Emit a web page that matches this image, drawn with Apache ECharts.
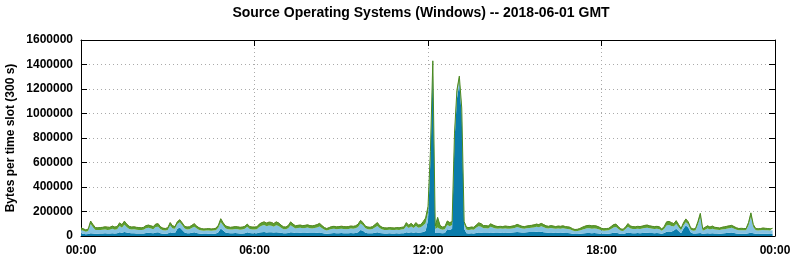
<!DOCTYPE html>
<html>
<head>
<meta charset="utf-8">
<script src="https://cdn.jsdelivr.net/npm/echarts@6/dist/echarts.min.js"></script>
<style>html,body{margin:0;padding:0;background:#fff}#c{width:794px;height:260px}</style>
</head>
<body>
<div id="c"></div>
<script>
// Values in kilobytes per 5-minute slot (288 slots, 00:00 .. 23:55)
const UNIT = 1000;
const SLOTS = 288;
const SLOTS_PER_TICK = 72;
const xTickLabels = ['00:00', '06:00', '12:00', '18:00', '00:00'];
const yTicks = [0, 200000, 400000, 600000, 800000, 1000000, 1200000, 1400000, 1600000];

const darkBlue = [
  20,18,15,16,22,20,18,18,20,20,22,20,
  20,22,20,22,30,26,32,28,24,22,22,20,
  20,20,20,24,26,24,22,28,30,22,18,18,
  20,30,24,25,60,70,50,28,22,22,26,30,
  24,20,18,17,17,18,17,18,20,30,62,45,
  28,24,22,22,24,22,20,21,22,30,24,22,
  22,22,28,30,32,28,30,30,28,30,28,26,
  22,22,24,30,28,24,25,26,24,25,26,24,
  24,25,26,28,24,20,18,20,22,24,22,22,
  24,22,22,22,24,22,24,30,50,42,26,22,
  22,22,26,30,24,22,20,20,22,20,20,22,
  20,22,22,30,26,30,26,30,26,28,32,40,
  130,620,1370,25,25,24,22,24,55,50,60,780,
  1120,1245,985,60,22,20,22,21,25,28,27,24,
  24,24,28,26,24,24,26,25,28,27,26,28,
  30,32,30,28,28,30,32,32,32,34,32,34,
  30,28,26,28,26,24,26,25,26,24,24,22,
  18,16,16,18,20,22,24,24,22,24,22,20,
  18,17,18,18,22,26,27,22,17,17,22,28,
  24,22,22,24,22,24,26,26,24,24,22,24,
  22,18,24,34,36,34,44,60,40,22,60,85,
  70,30,20,20,22,24,18,20,22,20,22,20,
  20,18,20,22,24,26,28,24,20,18,18,18,
  18,22,26,22,18,17,18,19,18,18,17,18
];
const lightBlue = [
  28,25,20,24,75,50,30,30,30,32,32,30,
  32,38,32,34,52,42,60,44,34,32,34,32,
  30,29,32,40,42,38,34,45,46,34,28,27,
  30,55,38,34,38,42,38,33,32,34,40,46,
  38,30,27,25,27,27,25,26,27,37,50,40,
  34,32,31,32,34,34,32,33,37,46,34,32,
  32,34,46,54,58,52,56,54,48,58,54,42,
  34,33,40,58,46,38,40,41,40,40,43,40,
  38,40,44,50,40,31,27,31,36,36,34,36,
  36,36,34,36,37,37,39,44,53,46,37,33,
  32,36,44,52,40,32,30,28,30,30,28,30,
  30,31,33,52,40,48,40,52,42,44,54,64,
  60,40,30,32,45,34,30,32,35,30,30,35,
  40,35,35,35,30,30,32,31,42,52,48,40,
  40,38,48,42,38,35,35,34,34,33,33,34,
  36,42,38,33,32,33,34,36,38,42,40,46,
  42,36,35,38,36,35,36,35,38,35,33,32,
  26,23,24,27,32,36,39,40,38,38,37,34,
  28,26,27,28,36,44,46,36,25,24,35,48,
  38,36,35,36,36,38,40,41,39,36,36,36,
  34,25,33,52,54,48,34,38,32,24,25,28,
  26,22,22,24,70,132,24,32,40,34,38,33,
  32,30,33,34,36,37,39,35,31,28,29,28,
  28,64,132,50,28,27,28,30,29,28,27,29
];
const green = [
  17,16,14,17,25,22,20,19,19,19,21,22,
  19,21,21,21,25,24,29,24,21,19,19,19,
  19,18,19,21,21,21,21,24,24,19,17,16,
  17,24,20,18,19,20,19,18,19,19,21,24,
  19,17,16,15,15,16,15,15,16,20,29,22,
  20,19,18,19,19,19,19,19,20,21,19,19,
  19,19,23,25,25,25,27,27,25,27,25,21,
  19,18,21,27,23,21,22,22,21,22,22,21,
  21,22,23,25,21,18,16,18,19,19,19,19,
  19,19,19,19,20,20,20,23,24,21,18,18,
  17,19,23,27,19,17,17,17,17,17,17,17,
  17,18,18,27,21,25,19,27,21,21,31,42,
  50,30,30,25,82,28,20,21,32,30,25,25,
  30,25,25,22,19,19,19,19,22,27,26,21,
  21,19,23,21,19,18,18,18,19,19,18,19,
  19,21,19,18,17,18,19,19,21,21,21,23,
  21,19,18,19,19,18,19,19,19,18,18,17,
  15,14,15,16,19,21,22,23,23,23,22,19,
  17,16,16,17,19,23,24,19,15,14,18,25,
  19,19,18,19,19,19,21,22,20,19,19,19,
  19,14,20,29,29,27,23,27,21,15,22,26,
  19,15,15,17,25,29,17,19,21,19,21,18,
  17,17,18,19,19,20,20,18,16,15,16,15,
  15,23,31,21,15,15,15,16,16,15,15,16
];
const brown = [
  3,3,3,3,3,3,4,3,3,3,3,4,
  3,3,3,3,3,3,4,4,3,3,3,3,
  3,3,3,3,3,3,3,3,4,3,4,5,
  3,5,4,5,3,4,3,3,3,3,3,5,
  3,3,3,3,3,3,3,5,4,3,4,3,
  3,3,3,3,3,3,3,3,3,3,3,3,
  3,3,3,3,3,3,4,3,3,3,3,3,
  3,3,3,4,3,3,3,3,3,3,3,3,
  3,3,3,3,3,3,3,3,3,3,3,3,
  5,4,5,4,3,3,3,3,4,3,3,3,
  3,3,3,3,3,3,3,3,3,3,3,3,
  3,3,3,4,3,4,3,3,3,3,4,4,
  10,10,5,3,5,3,3,3,5,3,5,10,
  10,5,5,5,3,3,3,3,3,3,3,3,
  3,3,3,3,3,3,3,3,3,3,3,3,
  3,3,3,3,3,3,3,3,3,3,3,3,
  3,3,3,3,3,3,3,3,3,3,3,3,
  3,3,3,3,3,3,3,3,3,3,3,3,
  3,3,3,3,3,3,3,3,3,3,3,3,
  3,3,3,3,3,3,3,3,3,3,3,3,
  3,3,3,3,3,3,3,3,3,3,3,3,
  3,3,3,3,3,3,3,3,3,3,3,3,
  3,3,3,3,3,3,3,3,3,3,3,3,
  3,3,3,3,3,3,3,3,3,3,3,3
];

const FONT = 'Liberation Sans';
// category slots 0..288 (the last one is the closing 24:00 edge)
const slots = [];
for (let i = 0; i <= SLOTS; i++) slots.push(i);
const toData = arr => arr.map(v => v * UNIT);

function areaSeries(name, arr, color, line) {
  return {
    name: name, type: 'line', stack: 'os', data: toData(arr),
    showSymbol: false, symbol: 'none', smooth: false,
    lineStyle: line ? { color: line, width: 1 } : { width: 0 },
    areaStyle: { color: color, opacity: 1 },
    itemStyle: { color: color },
    animation: false, z: 2
  };
}

const chart = echarts.init(document.getElementById('c'), null, { renderer: 'canvas' });
const axisLineStyle = { color: '#000', width: 1 };
const tickInterval = (idx) => idx % SLOTS_PER_TICK === 0;
chart.setOption({
  animation: false,
  backgroundColor: '#fff',
  title: {
    text: 'Source Operating Systems (Windows) -- 2018-06-01 GMT',
    left: 416, top: 1, textAlign: 'center',
    textStyle: { fontFamily: FONT, fontWeight: 'bold', fontSize: 14, color: '#000' }
  },
  grid: { left: 81, right: 19, top: 40, bottom: 24, containLabel: false, outerBoundsMode: 'none' },
  xAxis: [
    {
      type: 'category', data: slots, boundaryGap: false, position: 'bottom',
      axisLine: { show: true, onZero: false, lineStyle: axisLineStyle },
      axisTick: { show: true, inside: true, length: 6, interval: tickInterval, lineStyle: axisLineStyle },
      axisLabel: {
        color: '#000', fontFamily: FONT, fontWeight: 'bold', fontSize: 12, margin: 9,
        interval: tickInterval, showMinLabel: true, showMaxLabel: true,
        formatter: (v, idx) => xTickLabels[Math.round(idx / SLOTS_PER_TICK)]
      },
      splitLine: { show: true, interval: tickInterval, lineStyle: { color: '#aaa', type: [1, 3], width: 1 } }
    },
    {
      type: 'category', data: slots, boundaryGap: false, position: 'top',
      axisLine: { show: true, onZero: false, lineStyle: axisLineStyle },
      axisTick: { show: true, inside: true, length: 6, interval: tickInterval, lineStyle: axisLineStyle },
      axisLabel: { show: false }, splitLine: { show: false }
    }
  ],
  yAxis: [
    {
      type: 'value', min: yTicks[0], max: yTicks[yTicks.length - 1], interval: 200000, position: 'left',
      name: 'Bytes per time slot (300 s)', nameLocation: 'middle', nameGap: 64, nameMoveOverlap: false,
      nameTextStyle: { fontFamily: FONT, fontWeight: 'bold', fontSize: 12, color: '#000' },
      axisLine: { show: true, lineStyle: axisLineStyle },
      axisTick: { show: true, inside: true, length: 6, lineStyle: axisLineStyle },
      axisLabel: { color: '#000', fontFamily: FONT, fontWeight: 'bold', fontSize: 12, margin: 8, formatter: v => String(v) },
      splitLine: { show: true, lineStyle: { color: '#aaa', type: [1, 3], width: 1 } }
    },
    {
      type: 'value', min: yTicks[0], max: yTicks[yTicks.length - 1], interval: 200000, position: 'right',
      axisLine: { show: true, lineStyle: axisLineStyle },
      axisTick: { show: true, inside: true, length: 6, lineStyle: axisLineStyle },
      axisLabel: { show: false }, splitLine: { show: false }
    }
  ],
  series: [
    areaSeries('dark blue', darkBlue, '#0a7cab', null),
    areaSeries('light blue', lightBlue, '#84c2e2', null),
    areaSeries('green', green, '#5d9e2f', '#4a8a22'),
    areaSeries('brown', brown, '#c0802a', null)
  ]
});
</script>
</body>
</html>
